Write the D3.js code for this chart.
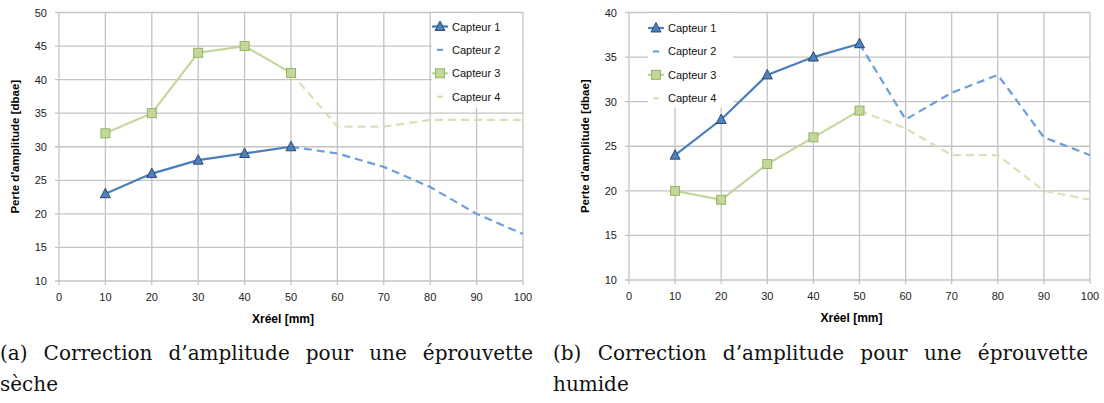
<!DOCTYPE html>
<html>
<head>
<meta charset="utf-8">
<script src="https://cdn.jsdelivr.net/npm/d3@7"></script>
<style>
  body { margin: 0; background: #fff; }
  svg { display: block; }
</style>
</head>
<body>
<div id="my_dataviz"></div>
<script>
// data
const xFirst = [10, 20, 30, 40, 50]
const xSecond = [50, 60, 70, 80, 90, 100]
const xTicks = [0, 10, 20, 30, 40, 50, 60, 70, 80, 90, 100]

// (a) dry specimen
const secheCapteur1 = [23, 26, 28, 29, 30]
const secheCapteur2 = [30, 29, 27, 24, 20, 17]
const secheCapteur3 = [32, 35, 44, 45, 41]
const secheCapteur4 = [41, 33, 33, 34, 34, 34]
const secheYTicks = [10, 15, 20, 25, 30, 35, 40, 45, 50]

// (b) wet specimen
const humideCapteur1 = [24, 28, 33, 35, 36.5]
const humideCapteur2 = [36.5, 28, 31, 33, 26, 24]
const humideCapteur3 = [20, 19, 23, 26, 29]
const humideCapteur4 = [29, 27, 24, 24, 20, 19]
const humideYTicks = [10, 15, 20, 25, 30, 35, 40]

const seriesNames = ["Capteur 1", "Capteur 2", "Capteur 3", "Capteur 4"]
const captionA = ["(a)", "Correction", "d\u2019amplitude", "pour", "une", "éprouvette"]
const captionA2 = "sèche"
const captionB = ["(b)", "Correction", "d\u2019amplitude", "pour", "une", "éprouvette"]
const captionB2 = "humide"

const svg = d3.select("#my_dataviz")
  .append("svg")
    .attr("width", 1104)
    .attr("height", 403)

const styles = [
  {stroke: "#4a7ebb", dash: null, marker: "triangle"},
  {stroke: "#6b9edb", dash: "8,5", marker: null},
  {stroke: "#c3d69b", dash: null, marker: "square"},
  {stroke: "#d5e2b8", dash: "8,5", marker: null}
]

function drawChart(opts) {
  const g = svg.append("g")

  const x = d3.scaleLinear().domain([0, 100]).range([opts.left, opts.right])
  const y = d3.scaleLinear().domain(d3.extent(opts.yTicks)).range([opts.bottom, opts.top])

  // gridlines
  g.append("g").selectAll("line.v")
    .data(xTicks)
    .enter().append("line")
      .attr("x1", d => x(d)).attr("x2", d => x(d))
      .attr("y1", opts.top).attr("y2", opts.bottom + 4)
      .attr("stroke", "#c4c4c4").attr("stroke-width", 1.3)
  g.append("g").selectAll("line.h")
    .data(opts.yTicks)
    .enter().append("line")
      .attr("x1", opts.left - 4).attr("x2", opts.right)
      .attr("y1", d => y(d)).attr("y2", d => y(d))
      .attr("stroke", "#c4c4c4").attr("stroke-width", 1.3)

  // tick labels
  g.append("g").selectAll("text")
    .data(xTicks)
    .enter().append("text")
      .attr("x", d => x(d)).attr("y", opts.bottom + 20)
      .attr("text-anchor", "middle")
      .style("font", "11px 'Liberation Sans', Arial, sans-serif")
      .attr("fill", "#222")
      .text(d => d)
  g.append("g").selectAll("text")
    .data(opts.yTicks)
    .enter().append("text")
      .attr("x", opts.left - 12).attr("y", d => y(d) + 4)
      .attr("text-anchor", "end")
      .style("font", "11px 'Liberation Sans', Arial, sans-serif")
      .attr("fill", "#222")
      .text(d => d)

  // axis titles
  g.append("text")
    .attr("x", (opts.left + opts.right) / 2 - 8).attr("y", opts.bottom + 42)
    .attr("text-anchor", "middle")
    .style("font", "bold 12px 'Liberation Sans', Arial, sans-serif")
    .text("Xréel [mm]")
  g.append("text")
    .attr("transform", `translate(${opts.left - 40},${(opts.top + opts.bottom) / 2}) rotate(-90)`)
    .attr("text-anchor", "middle")
    .style("font", "bold 11.5px 'Liberation Sans', Arial, sans-serif")
    .text("Perte d'amplitude [dbae]")

  // legend background hides the grid
  g.append("rect")
    .attr("x", opts.legendX - 8).attr("y", opts.top + 1)
    .attr("width", opts.legendW).attr("height", 94)
    .attr("fill", "#fff")

  const line = d3.line().x(d => x(d[0])).y(d => y(d[1]))
  const series = [
    xFirst.map((d, i) => [d, opts.s1[i]]),
    xSecond.map((d, i) => [d, opts.s2[i]]),
    xFirst.map((d, i) => [d, opts.s3[i]]),
    xSecond.map((d, i) => [d, opts.s4[i]])
  ]
  // dashed ones first, solid ones on top
  ;[3, 1, 2, 0].forEach(function(k) {
    g.append("path")
      .datum(series[k])
      .attr("d", line)
      .attr("fill", "none")
      .attr("stroke", styles[k].stroke)
      .attr("stroke-width", 2.2)
      .attr("stroke-dasharray", styles[k].dash)
  })

  function marker(sel, type) {
    if (type === "triangle") {
      sel.append("path")
        .attr("d", "M0,-5.5L5,4L-5,4Z")
        .attr("fill", "#4f81bd").attr("stroke", "#243f60").attr("stroke-width", 0.9)
    } else {
      sel.append("rect")
        .attr("x", -4.5).attr("y", -4.5).attr("width", 9).attr("height", 9)
        .attr("fill", "#c3d69b").attr("stroke", "#8fae55").attr("stroke-width", 0.9)
    }
  }
  ;[0, 2].forEach(function(k) {
    series[k].forEach(function(d) {
      const m = g.append("g").attr("transform", `translate(${x(d[0])},${y(d[1])})`)
      marker(m, styles[k].marker)
    })
  })

  // legend
  seriesNames.forEach(function(name, i) {
    const ly = opts.legendY + i * 23.4
    const lg = g.append("g").attr("transform", `translate(${opts.legendX},${ly})`)
    if (styles[i].marker) {
      lg.append("line").attr("x1", -8).attr("x2", 8)
        .attr("stroke", styles[i].stroke).attr("stroke-width", 2.2)
      marker(lg, styles[i].marker)
    } else {
      lg.append("line").attr("x1", -3).attr("x2", 3)
        .attr("stroke", styles[i].stroke).attr("stroke-width", 2.2)
    }
    lg.append("text")
      .attr("x", 12).attr("y", 4)
      .style("font", "11px 'Liberation Sans', Arial, sans-serif")
      .attr("fill", "#111")
      .text(name)
  })
}

drawChart({left: 59, right: 523, top: 12.5, bottom: 281, yTicks: secheYTicks,
  s1: secheCapteur1, s2: secheCapteur2, s3: secheCapteur3, s4: secheCapteur4,
  legendX: 440, legendY: 26.5, legendW: 90})
drawChart({left: 629, right: 1090, top: 12.5, bottom: 280, yTicks: humideYTicks,
  s1: humideCapteur1, s2: humideCapteur2, s3: humideCapteur3, s4: humideCapteur4,
  legendX: 656, legendY: 28, legendW: 85})

// captions, justified like the LaTeX original: words measured, gaps spread evenly
function caption(words, x0, x1, second) {
  const texts = words.map(function(w) {
    return svg.append("text")
      .attr("y", 360)
      .style("font", "20px 'DejaVu Serif', serif")
      .attr("fill", "#111")
      .text(w)
  })
  const widths = texts.map(t => t.node().getComputedTextLength())
  const gap = (x1 - x0 - d3.sum(widths)) / (words.length - 1)
  let pos = x0
  texts.forEach(function(t, i) {
    t.attr("x", pos)
    pos += widths[i] + gap
  })
  svg.append("text")
    .attr("x", x0).attr("y", 391)
    .style("font", "20px 'DejaVu Serif', serif")
    .attr("fill", "#111")
    .text(second)
}
caption(captionA, 0, 533, captionA2)
caption(captionB, 553, 1088, captionB2)
</script>
</body>
</html>
